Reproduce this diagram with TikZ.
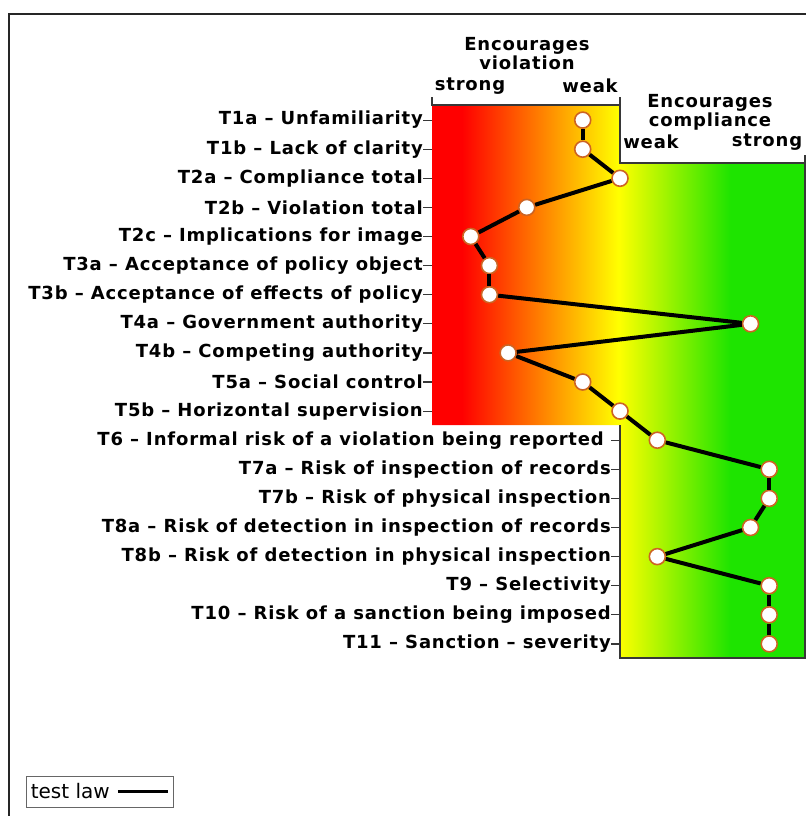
\documentclass[tikz,border=0pt]{standalone}
\usepackage{fontspec}
\setmainfont{DejaVu Sans}
\newfontfamily\chartfont[LetterSpace=4.6]{DejaVu Sans}
\usepackage{tikz}

\definecolor{axisgray}{RGB}{55,55,55}
\definecolor{dotrim}{RGB}{205,100,35}
\definecolor{compgreen}{RGB}{30,228,0}
\pgfdeclarehorizontalshading{violcomp}{100bp}{color(0bp)=(red); color(29bp)=(red);
  color(50bp)=(yellow); color(65bp)=(compgreen); color(100bp)=(compgreen)}

\tikzset{
  lab/.style={anchor=east,inner sep=0pt,font=\chartfont\fontsize{18}{18}\selectfont\bfseries},
  head/.style={inner sep=0pt,align=center,font=\chartfont\fontsize{18}{19}\selectfont\bfseries},
  dot/.style={circle,draw=dotrim,fill=white,line width=1.6pt,minimum size=16pt,inner sep=0pt},
  trace/.style={line width=4pt,black},
  axisline/.style={axisgray,line width=1.2pt}
}

\begin{document}
\begin{tikzpicture}[x=1pt,y=-1pt]
  \useasboundingbox (0,0) rectangle (806,816);

  % frame
  \draw[line width=2pt,black!85] (9,816) -- (9,14) -- (806,14);

  % colour scale
  \shade[shading=violcomp] (432,105) -- (620,105) -- (620,163) -- (805,163)
    -- (805,658) -- (620,658) -- (620,425) -- (432,425) -- cycle;
  \draw[axisline] (432,97) -- (432,105) -- (620,105);
  \draw[axisline] (620,97) -- (620,163) -- (805,163) -- (805,155);
  \draw[axisline] (620,425) -- (620,658) -- (805,658) -- (805,163);

  % headings
  \node[head] (viol) at (527,54) {Encourages\\violation};
  \node[head] (vstrong) at (470,86) {strong};
  \node[head] (vweak) at (590,86) {weak};
  \node[head] (comp) at (710,112) {Encourages\\compliance};
  \node[head] (cweak) at (651,142) {weak};
  \node[head] (cstrong) at (767,142) {strong};

  % items
  \foreach \i/\txt/\v/\ax in {
      1/T1a – Unfamiliarity/-1/432,
      2/T1b – Lack of clarity/-1/432,
      3/T2a – Compliance total/0/432,
      4/T2b – Violation total/-2.5/432,
      5/T2c – Implications for image/-4/432,
      6/T3a – Acceptance of policy object/-3.5/432,
      7/T3b – Acceptance of effects of policy/-3.5/432,
      8/T4a – Government authority/3.5/432,
      9/T4b – Competing authority/-3/432,
      10/T5a – Social control/-1/432,
      11/T5b – Horizontal supervision/0/432,
      12/T6 – Informal risk of a violation being reported\kern7pt/1/620,
      13/T7a – Risk of inspection of records/4/620,
      14/T7b – Risk of physical inspection/4/620,
      15/T8a – Risk of detection in inspection of records/3.5/620,
      16/T8b – Risk of detection in physical inspection/1/620,
      17/T9 – Selectivity/4/620,
      18/T10 – Risk of a sanction being imposed/4/620,
      19/T11 – Sanction – severity/4/620} {
    \node[lab] (l\i) at (\ax-9, 91+29.1*\i) {\txt};
    \draw[axisline] (l\i.east) -- ++(9,0);
    \node[dot] (p\i) at (620+37.3*\v, 91+29.1*\i) {};
  }

  % test law
  \foreach \j [remember=\j as \k (initially 1)] in {2,...,19} {
    \draw[trace] (p\k) -- (p\j);
  }

  % legend
  \node[draw=black!60,line width=0.8pt,minimum width=147pt,minimum height=31pt,inner sep=0pt] (leg) at (99.5,791.5) {};
  \node[anchor=west,inner sep=0pt,font=\fontsize{20}{20}\selectfont] (legtxt) at ([xshift=5pt]leg.west) {test law};
  \draw[line width=3.5pt] ([xshift=8pt]legtxt.east) -- ([xshift=-5pt]leg.east |- legtxt.east);
\end{tikzpicture}
\end{document}
